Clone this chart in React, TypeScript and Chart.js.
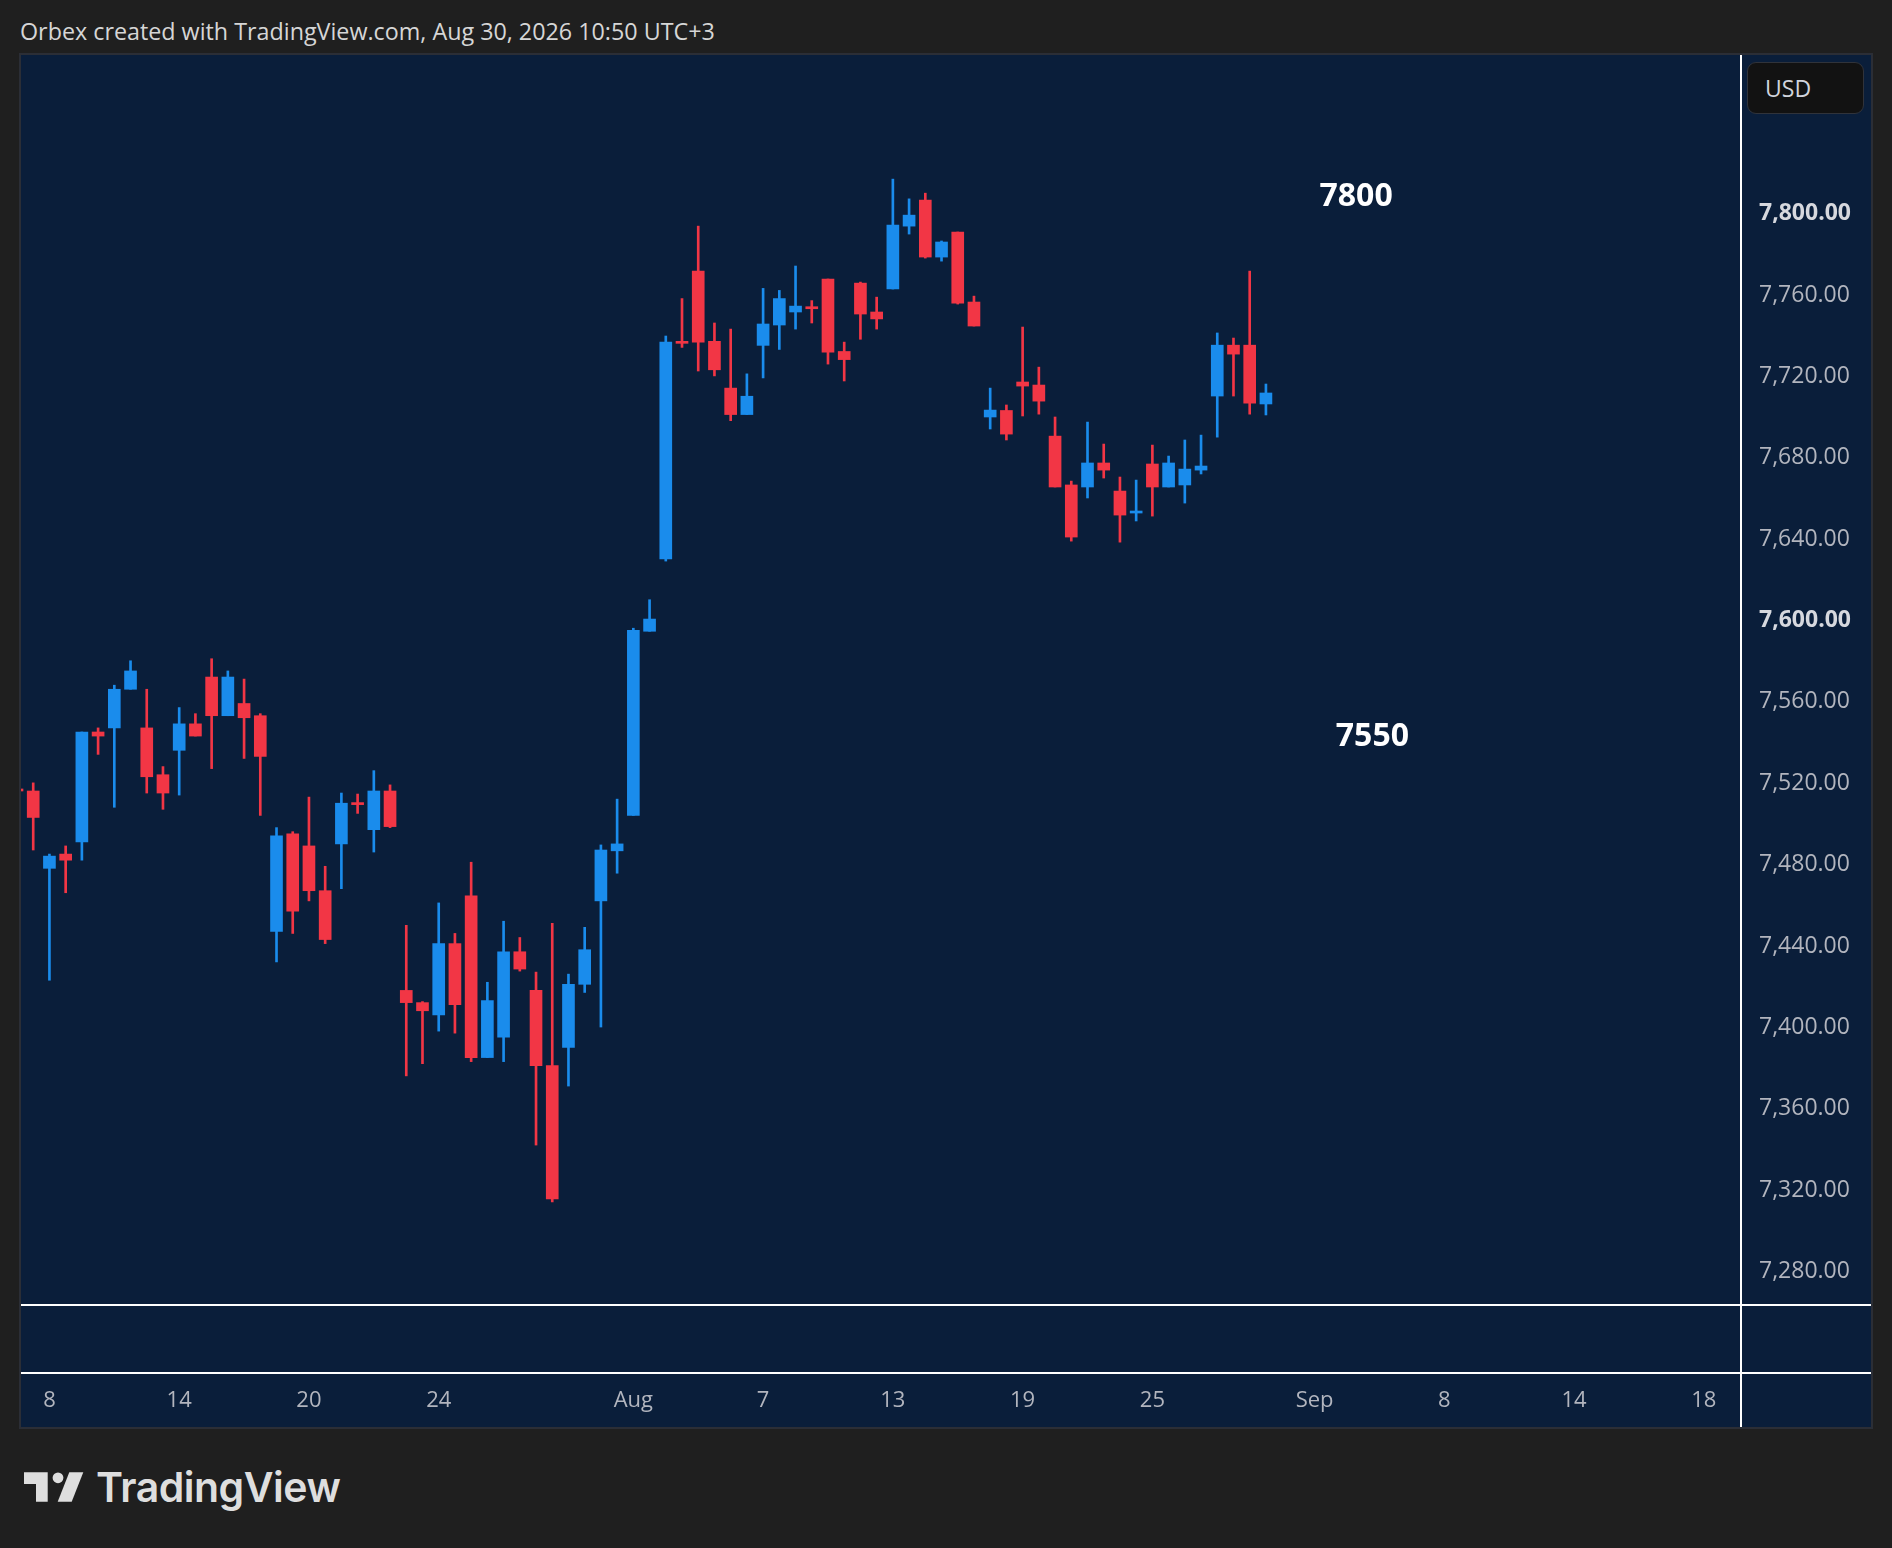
import React, { useEffect, useRef } from "react";
import { Chart, registerables } from "chart.js";

Chart.register(...registerables);

// ---- data (daily-session candles, two per trading day) ----
const opens = [
  7516, 7515, 7477, 7484, 7490, 7544, 7546, 7565, 7546, 7523,
  7535, 7548, 7571, 7552, 7558, 7552, 7446, 7494, 7488, 7466,
  7489, 7509.3, 7496, 7515, 7417, 7411, 7405, 7440, 7463.5, 7384,
  7394, 7436, 7417, 7380, 7389, 7420, 7461, 7485.6, 7503, 7593.5,
  7629, 7736, 7770.5, 7736, 7713, 7700, 7734, 7744, 7750.4, 7753,
  7766.6, 7731, 7764.6, 7750.4, 7761.7, 7792.6, 7805.4, 7777.4, 7789.7, 7755.3,
  7698.8, 7702, 7716, 7714.5, 7689.4, 7665.4, 7664.4, 7676.2, 7662.4, 7651.6,
  7675.7, 7664.4, 7665.4, 7672.7, 7709.1, 7734.1, 7734.1, 7705.2,
];
const highs = [
  7517, 7519, 7484, 7488, 7544, 7546, 7567, 7579, 7565, 7527,
  7556, 7553, 7580, 7574, 7570, 7553, 7497, 7495, 7512, 7478,
  7514, 7513.5, 7525, 7518, 7449, 7411.5, 7460, 7445, 7480, 7421,
  7451, 7443, 7426, 7450, 7425, 7448, 7488.5, 7511, 7595, 7609,
  7738.6, 7757, 7792.6, 7745, 7742, 7720, 7762, 7761, 7773, 7756,
  7766.6, 7735.6, 7765.1, 7757.7, 7815.7, 7806, 7808.8, 7785.3, 7789.7, 7758.2,
  7713, 7704.7, 7743, 7723.3, 7698.8, 7667.3, 7696.3, 7685.5, 7669.3, 7667.8,
  7685, 7679.6, 7687.5, 7689.9, 7740.1, 7737.6, 7770.5, 7715,
];
const lows = [
  7514, 7486, 7422, 7465, 7481, 7533, 7507, 7565, 7514, 7506,
  7513, 7542, 7526, 7552, 7531, 7503, 7431, 7445, 7461, 7440,
  7467, 7504, 7485, 7497, 7375, 7381, 7397, 7396, 7382, 7384,
  7382, 7426.5, 7341, 7313, 7370, 7416, 7399, 7474.6, 7503, 7593.5,
  7628, 7733, 7721.4, 7719, 7697, 7700, 7718, 7732, 7742, 7745,
  7724.8, 7716.5, 7737, 7742, 7761.7, 7788.7, 7776.9, 7775.4, 7754.3, 7743.5,
  7692.9, 7687.5, 7699.3, 7700.2, 7664.4, 7637.8, 7659, 7668.8, 7637.3, 7647.7,
  7650.1, 7664.4, 7656.5, 7670.8, 7688.9, 7709.1, 7700.2, 7699.8,
];
const closes = [
  7515, 7502, 7483, 7481, 7544, 7542, 7565, 7574, 7522, 7514,
  7548, 7542, 7552, 7571, 7551, 7532, 7493, 7456, 7466, 7442,
  7509, 7508.3, 7515, 7497.5, 7411, 7407, 7440, 7410, 7384, 7412,
  7436, 7427.5, 7380, 7314.5, 7420, 7437, 7486, 7489, 7594, 7599.5,
  7735.6, 7735, 7735.6, 7722, 7700, 7709, 7744.5, 7757, 7753.3, 7752,
  7730.7, 7727, 7749.4, 7747, 7793.1, 7798, 7777.4, 7784.8, 7754.8, 7743.5,
  7702.2, 7690.4, 7714, 7706.6, 7664.4, 7639.8, 7676.2, 7672.7, 7650.6, 7652.6,
  7664.4, 7676.2, 7673.2, 7674.7, 7734.1, 7729.7, 7705.6, 7710.6,
];

const xTickIndex = [2, 10, 18, 26, 38, 46, 54, 62, 70, 80, 88, 96, 104];
const xTickLabels = ["8", "14", "20", "24", "Aug", "7", "13", "19", "25", "Sep", "8", "14", "18"];
const yTickValues = [7280, 7320, 7360, 7400, 7440, 7480, 7520, 7560, 7600, 7640, 7680, 7720, 7760, 7800];
const boldYTicks = [7600, 7800];
const annotationTexts = ["7800", "7550"];

const BULL = "#1a8cec";
const BEAR = "#f23645";
const FONT = '"Open Sans", "Noto Sans", sans-serif';

const framePlugin = {
  id: "frame",
  afterDraw(chart: any) {
    const { ctx, chartArea, width, height } = chart;
    ctx.save();
    ctx.fillStyle = "#ffffff";
    ctx.fillRect(0, chartArea.bottom - 1, width, 2);
    ctx.fillRect(0, chartArea.bottom + 67, width, 2);
    ctx.fillRect(chartArea.right - 1, 0, 2, height);
    ctx.font = 'bold 32px "Open Sans", sans-serif';
    ctx.textBaseline = "alphabetic";
    ctx.textAlign = "left";
    ctx.fillText(annotationTexts[0], 1298.5, 150.7);
    ctx.fillText(annotationTexts[1], 1314.8, 690.7);
    ctx.restore();
  },
};

function CandleChart() {
  const ref = useRef<HTMLCanvasElement | null>(null);
  useEffect(() => {
    if (!ref.current) return;
    const colors = opens.map((o, i) => (closes[i] >= o ? BULL : BEAR));
    const bodies = opens.map((o, i) => ({ x: i, y: [o, closes[i]] }));
    const wicks = opens.map((_, i) => ({ x: i, y: [lows[i], highs[i]] }));
    const chart = new Chart(ref.current, {
      type: "bar",
      data: {
        datasets: [
          {
            data: wicks as any,
            backgroundColor: colors,
            barThickness: 2,
            grouped: false,
            order: 2,
            borderWidth: 0,
            borderSkipped: false,
          } as any,
          {
            data: bodies as any,
            backgroundColor: colors,
            barThickness: 12,
            grouped: false,
            order: 1,
            borderWidth: 0,
            borderSkipped: false,
            minBarLength: 2,
          } as any,
        ],
      },
      options: {
        animation: false,
        responsive: false,
        maintainAspectRatio: false,
        layout: { padding: 0 },
        events: [],
        plugins: { legend: { display: false }, tooltip: { enabled: false } },
        scales: {
          x: {
            type: "linear",
            min: 0.247,
            max: 106.29,
            offset: false,
            grid: { display: false, drawTicks: false, tickLength: 0 },
            border: { display: false },
            afterBuildTicks: (s: any) => {
              s.ticks = xTickIndex.map((v) => ({ value: v }));
            },
            afterFit: (s: any) => {
              s.height = 122;
              s.paddingLeft = 0;
              s.paddingRight = 0;
            },
            ticks: {
              autoSkip: false,
              maxRotation: 0,
              minRotation: 0,
              padding: 83,
              color: "#b2b5be",
              font: { family: FONT, size: 22, lineHeight: 1.2 },
              callback: (v: any) => {
                const k = xTickIndex.indexOf(Number(v));
                return k >= 0 ? xTickLabels[k] : "";
              },
            },
          },
          y: {
            type: "linear",
            position: "right",
            min: 7262.4,
            max: 7876.7,
            grid: { display: false, drawTicks: false, tickLength: 0 },
            border: { display: false },
            afterBuildTicks: (s: any) => {
              s.ticks = yTickValues.map((v) => ({ value: v }));
            },
            afterFit: (s: any) => {
              s.width = 130;
              s.paddingTop = 0;
              s.paddingBottom = 0;
            },
            ticks: {
              autoSkip: false,
              padding: 18,
              labelOffset: 2.5,
              color: (c: any) => (boldYTicks.includes(c.tick?.value) ? "#d6d8de" : "#b2b5be"),
              font: (c: any) => ({
                family: FONT,
                size: 23,
                weight: boldYTicks.includes(c.tick?.value) ? "bold" : "normal",
              }),
              callback: (v: any) =>
                Number(v).toLocaleString("en-US", { minimumFractionDigits: 2, maximumFractionDigits: 2 }),
            },
          },
        },
      } as any,
      plugins: [framePlugin],
    });
    return () => chart.destroy();
  }, []);
  return <canvas ref={ref} width={1850} height={1372} style={{ display: "block", width: 1850, height: 1372 }} />;
}

export default function App() {
  return (
    <div
      style={{
        position: "absolute",
        left: 0,
        top: 0,
        width: 1892,
        height: 1548,
        background: "#1f1f1f",
        overflow: "hidden",
        fontFamily: FONT,
      }}
    >
      <div
        style={{
          position: "absolute",
          left: 20,
          top: 15,
          fontSize: 23.3,
          lineHeight: "normal",
          color: "#d6d6d6",
          whiteSpace: "nowrap",
        }}
      >
        Orbex created with TradingView.com, Aug 30, 2026 10:50 UTC+3
      </div>
      <div
        style={{
          position: "absolute",
          left: 19,
          top: 53,
          width: 1854,
          height: 1376,
          boxSizing: "border-box",
          border: "2px solid #2b2e36",
          background: "#0a1e3a",
        }}
      >
        <CandleChart />
      </div>
      <div
        style={{
          position: "absolute",
          left: 1747,
          top: 62,
          width: 117,
          height: 52,
          boxSizing: "border-box",
          border: "1px solid #30333a",
          borderRadius: 9,
          background: "#121212",
          display: "flex",
          alignItems: "center",
          paddingLeft: 17,
          fontSize: 23,
          color: "#d1d4dc",
        }}
      >
        USD
      </div>
      <svg
        style={{ position: "absolute", left: 0, top: 1460 }}
        width={100}
        height={50}
        viewBox="0 1460 100 50"
      >
        <polygon points="24,1472.3 47.7,1472.3 47.7,1501.7 36,1501.7 36,1484 24,1484" fill="#dedede" />
        <circle cx={58} cy={1477.8} r={5.4} fill="#dedede" />
        <polygon points="69.3,1472.3 83.3,1472.3 71.7,1501.7 57.7,1501.7" fill="#dedede" />
      </svg>
      <div
        style={{
          position: "absolute",
          left: 96,
          top: 1462,
          fontFamily: "Inter, sans-serif",
          fontWeight: 600,
          fontSize: 41,
          lineHeight: "normal",
          color: "#dedede",
          letterSpacing: -0.5,
          whiteSpace: "nowrap",
        }}
      >
        TradingView
      </div>
    </div>
  );
}
